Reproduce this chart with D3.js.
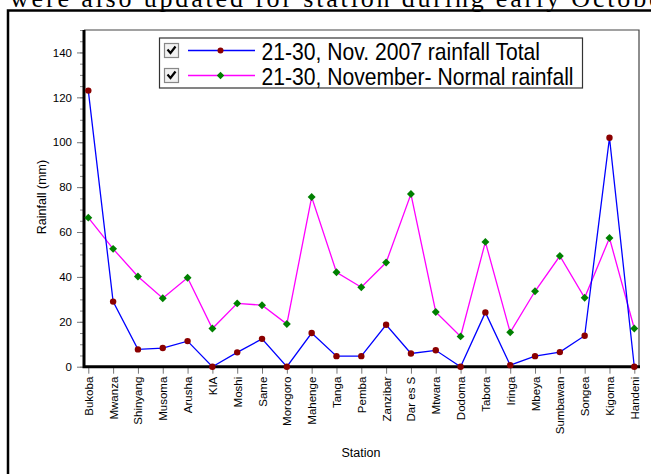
<!DOCTYPE html>
<html>
<head>
<meta charset="utf-8">
<script src="https://cdn.jsdelivr.net/npm/d3@7"></script>
<style>
  body { margin: 0; background: #fff; }
  svg { display: block; font-family: "Liberation Sans", Arial, sans-serif; }
</style>
</head>
<body>
<div id="chart"></div>
<script>
const stations = ["Bukoba", "Mwanza", "Shinyang", "Musoma", "Arusha", "KIA", "Moshi", "Same",
    "Morogoro", "Mahenge", "Tanga", "Pemba", "Zanzibar", "Dar es S", "Mtwara", "Dodoma",
    "Tabora", "Iringa", "Mbeya", "Sumbawan", "Songea", "Kigoma", "Handeni"];
const totalRain = [123, 29, 7.7, 8.3, 11.4, 0, 6.4, 12.4, 0, 15, 4.7, 4.7, 18.7, 5.9, 7.3, 0,
    24.2, 0.7, 4.7, 6.5, 13.8, 102, 0];
const normalRain = [66.4, 52.5, 40.2, 30.5, 39.6, 17, 28.2, 27.4, 19, 75.6, 42.1, 35.4, 46.4,
    76.9, 24.4, 13.5, 55.6, 15.3, 33.6, 49.3, 30.7, 57.3, 17];
const seriesNames = ["21-30, Nov. 2007 rainfall Total", "21-30, November- Normal rainfall"];
const yMajorTicks = [0, 20, 40, 60, 80, 100, 120, 140];
const yMinorTicks = d3.range(0, 151, 5);

function drawChart() {
    const width = 651, height = 474;
    const plot = {left: 84, right: 639, top: 30, bottom: 366.7};

    const svg = d3.select("#chart").append("svg")
        .attr("width", width)
        .attr("height", height);

    // clipped caption line from the page above the figure
    svg.append("text")
        .attr("x", 10)
        .attr("y", 6.5)
        .attr("textLength", 662)
        .style("font-family", "'Liberation Serif', 'Times New Roman', serif")
        .style("font-size", "26px")
        .text("were also updated for station during early October");

    // outer frame (right and bottom edges fall outside the picture)
    svg.append("path")
        .attr("d", `M8,${height + 2}V10.5H${width + 2}`)
        .attr("fill", "none")
        .attr("stroke", "#000")
        .attr("stroke-width", 2.5);

    const x = d3.scalePoint()
        .domain(stations)
        .range([88.3, 634.3]);

    const y = d3.scaleLinear()
        .domain([0, 150])
        .range([plot.bottom, plot.top]);

    // plot box, thin top and right sides
    svg.append("path")
        .attr("d", `M${plot.left},${plot.top}H${plot.right}V${plot.bottom}`)
        .attr("fill", "none")
        .attr("stroke", "#444")
        .attr("stroke-width", 1.2);

    // y axis ticks
    svg.append("g")
        .attr("transform", `translate(${plot.left - 1},0)`)
        .call(d3.axisLeft(y).tickValues(yMinorTicks).tickSize(3).tickFormat(""))
        .call(g => g.select(".domain").remove())
        .call(g => g.selectAll("line").attr("stroke", "#888"));

    svg.append("g")
        .attr("transform", `translate(${plot.left - 1},0)`)
        .call(d3.axisLeft(y).tickValues(yMajorTicks).tickSize(6).tickPadding(5))
        .call(g => g.select(".domain").remove())
        .call(g => g.selectAll("line").attr("stroke", "#777"))
        .call(g => g.selectAll("text")
            .style("font-size", "11.5px")
            .attr("fill", "#000"));

    // x axis ticks and station labels
    svg.append("g")
        .attr("transform", `translate(0,${plot.bottom + 1})`)
        .call(d3.axisBottom(x).tickSize(6).tickPadding(0))
        .call(g => g.select(".domain").remove())
        .call(g => g.selectAll("line").attr("stroke", "#777"))
        .call(g => g.selectAll("text")
            .attr("transform", "rotate(-90)")
            .attr("x", -9)
            .attr("y", 0)
            .attr("dy", "0.35em")
            .style("text-anchor", "end")
            .style("font-size", "11.5px")
            .attr("fill", "#000"));

    // heavy axis lines
    svg.append("path")
        .attr("d", `M${plot.left},${plot.top}V${plot.bottom}H${plot.right + 1}`)
        .attr("fill", "none")
        .attr("stroke", "#000")
        .attr("stroke-width", 3);

    // axis titles
    svg.append("text")
        .attr("transform", `translate(46,197) rotate(-90)`)
        .style("text-anchor", "middle")
        .style("font-size", "12.5px")
        .text("Rainfall (mm)");

    svg.append("text")
        .attr("x", 361)
        .attr("y", 457)
        .style("text-anchor", "middle")
        .style("font-size", "12.5px")
        .text("Station");

    const line = d3.line()
        .x((d, i) => x(stations[i]))
        .y(d => y(d));

    svg.append("path")
        .datum(normalRain)
        .attr("d", line)
        .attr("fill", "none")
        .attr("stroke", "#ff00ff")
        .attr("stroke-width", 1.3);

    svg.append("path")
        .datum(totalRain)
        .attr("d", line)
        .attr("fill", "none")
        .attr("stroke", "#0000ff")
        .attr("stroke-width", 1.3);

    const diamond = d3.symbol().type(d3.symbolDiamond2).size(40);

    svg.append("g").selectAll("path")
        .data(normalRain)
        .enter().append("path")
        .attr("d", diamond)
        .attr("transform", (d, i) => `translate(${x(stations[i])},${y(d)})`)
        .attr("fill", "#008000");

    svg.append("g").selectAll("circle")
        .data(totalRain)
        .enter().append("circle")
        .attr("cx", (d, i) => x(stations[i]))
        .attr("cy", d => y(d))
        .attr("r", 3.2)
        .attr("fill", "#8b0000");

    drawLegend(svg);
}

function drawLegend(svg) {
    const box = {x: 159.5, y: 38, w: 423, h: 50};
    const colors = ["#0000ff", "#ff00ff"];

    svg.append("rect")
        .attr("x", box.x)
        .attr("y", box.y)
        .attr("width", box.w)
        .attr("height", box.h)
        .attr("fill", "#fff")
        .attr("stroke", "#333")
        .attr("stroke-width", 1.2);

    const rows = svg.append("g").selectAll("g")
        .data(seriesNames)
        .enter().append("g")
        .attr("transform", (d, i) => `translate(${box.x},${box.y + 12.5 + i * 25})`);

    // checkbox
    rows.append("rect")
        .attr("x", 5)
        .attr("y", -7)
        .attr("width", 14)
        .attr("height", 14)
        .attr("fill", "#f2f2f2")
        .attr("stroke", "#888")
        .attr("stroke-width", 1.2);

    rows.append("path")
        .attr("d", "M8,-1L11,2.5L16,-4")
        .attr("fill", "none")
        .attr("stroke", "#000")
        .attr("stroke-width", 2.2);

    rows.append("line")
        .attr("x1", 28.5)
        .attr("x2", 95.5)
        .attr("stroke", (d, i) => colors[i])
        .attr("stroke-width", 1.3);

    rows.filter((d, i) => i === 0).append("circle")
        .attr("cx", 61)
        .attr("r", 3)
        .attr("fill", "#8b0000");

    rows.filter((d, i) => i === 1).append("path")
        .attr("d", d3.symbol().type(d3.symbolDiamond2).size(36))
        .attr("transform", "translate(61,0)")
        .attr("fill", "#008000");

    rows.append("text")
        .attr("transform", "translate(102,9) scale(0.88,1)")
        .style("font-size", "24px")
        .text(d => d);
}

drawChart();
</script>
</body>
</html>
